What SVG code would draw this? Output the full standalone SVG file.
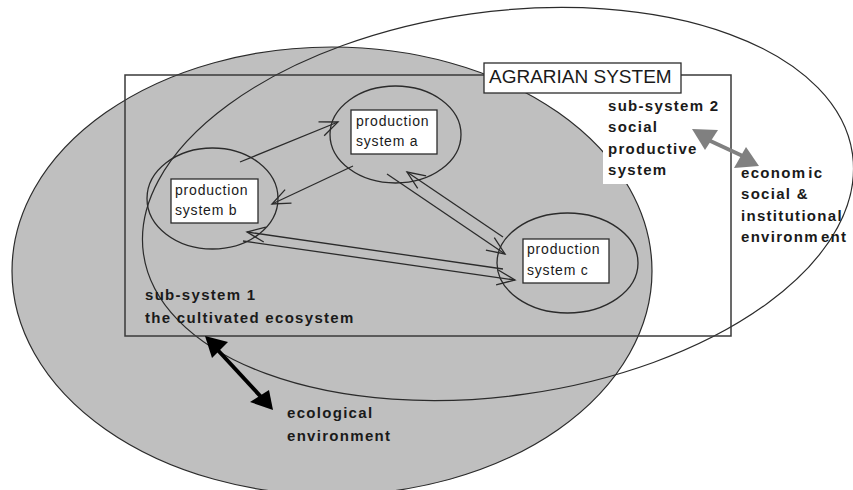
<svg xmlns="http://www.w3.org/2000/svg" width="853" height="490" viewBox="0 0 853 490">
  <style>
    .outline { fill: none; stroke: #2b2b2b; stroke-width: 1.2; }
    .node-ring { fill: none; stroke: #2b2b2b; stroke-width: 1.3; }
    .label-box { fill: #ffffff; stroke: #2b2b2b; stroke-width: 1.3; }
    .node-text { font-family: "Liberation Sans", Arial, sans-serif; font-size: 14px; letter-spacing: 0.8px; fill: #1a1a1a; }
    .bold-text { font-family: "Liberation Sans", Arial, sans-serif; font-size: 15px; font-weight: bold; letter-spacing: 1.3px; fill: #1a1a1a; }
    .title-text { font-family: "Liberation Sans", Arial, sans-serif; font-size: 19px; fill: #1a1a1a; }
    .flow { fill: none; stroke: #2b2b2b; stroke-width: 1.3; marker-end: url(#open-head); }
  </style>
  <defs>
    <marker id="open-head" markerUnits="userSpaceOnUse" markerWidth="24" markerHeight="20" refX="20" refY="9" orient="auto">
      <path d="M2,1.5 L20,9 L2,16.5" fill="none" stroke="#2b2b2b" stroke-width="1.3"/>
    </marker>
  </defs>

  <rect width="853" height="490" fill="#ffffff"/>

  <!-- ecological environment: shaded ellipse -->
  <g id="ecological-environment">
    <ellipse cx="332" cy="271" rx="320" ry="224" fill="#bfbfbf" stroke="#2b2b2b" stroke-width="1.2"/>
  </g>

  <!-- economic, social and institutional environment: outline ellipse -->
  <g id="socio-economic-environment">
    <ellipse cx="498" cy="204" rx="358" ry="192" transform="rotate(-8 498 204)" class="outline"/>
  </g>

  <!-- agrarian system frame -->
  <g id="agrarian-system">
    <rect x="125" y="75" width="606" height="261" fill="none" stroke="#3a3a3a" stroke-width="1.5"/>
    <rect x="484" y="63" width="197" height="30" class="label-box"/>
    <text x="489" y="83" class="title-text">AGRARIAN SYSTEM</text>
  </g>

  <!-- sub-system 2 caption on a white ground -->
  <g id="sub-system-2">
    <rect x="603" y="95" width="120" height="89" fill="#ffffff"/>
    <text class="bold-text">
      <tspan x="608" y="111">sub-system 2</tspan>
      <tspan x="608" y="132">social</tspan>
      <tspan x="608" y="154">productive</tspan>
      <tspan x="608" y="175">system</tspan>
    </text>
  </g>

  <g id="sub-system-1">
    <text class="bold-text">
      <tspan x="145" y="300">sub-system 1</tspan>
      <tspan x="145" y="323">the cultivated ecosystem</tspan>
    </text>
  </g>

  <g id="economic-label">
    <text class="bold-text">
      <tspan x="741" y="178">econom</tspan><tspan dx="2">ic</tspan>
      <tspan x="741" y="199">social &amp;</tspan>
      <tspan x="741" y="221">institutional</tspan>
      <tspan x="741" y="242">environm</tspan><tspan dx="2">ent</tspan>
    </text>
  </g>

  <g id="ecological-label">
    <text class="bold-text">
      <tspan x="287" y="418">ecological</tspan>
      <tspan x="287" y="441">environment</tspan>
    </text>
  </g>

  <!-- production systems -->
  <g id="production-system-a">
    <ellipse cx="395.5" cy="134.5" rx="65.5" ry="48.5" class="node-ring"/>
    <rect x="351" y="110" width="86" height="44" class="label-box"/>
    <text class="node-text">
      <tspan x="356" y="126">production</tspan>
      <tspan x="356" y="146">system a</tspan>
    </text>
  </g>

  <g id="production-system-b">
    <ellipse cx="212.5" cy="198.5" rx="65.5" ry="50.5" class="node-ring"/>
    <rect x="171" y="179" width="87" height="44" class="label-box"/>
    <text class="node-text">
      <tspan x="175" y="195">production</tspan>
      <tspan x="175" y="215">system b</tspan>
    </text>
  </g>

  <g id="production-system-c">
    <ellipse cx="567.5" cy="263" rx="70.5" ry="50" class="node-ring"/>
    <rect x="523" y="239" width="86" height="44" class="label-box"/>
    <text class="node-text">
      <tspan x="527" y="254">production</tspan>
      <tspan x="527" y="275">system c</tspan>
    </text>
  </g>

  <!-- connectors -->
  <g id="connectors">
    <path d="M240,162 L338,122" class="flow"/>
    <path d="M353,166 L272,204" class="flow"/>
    <path d="M387,174 L505,254" class="flow"/>
    <path d="M503,237 L407,172" class="flow"/>
    <path d="M503,269 L247,232" class="flow"/>
    <path d="M243,241 L515,280" class="flow"/>

    <!-- exchange with the socio-economic environment -->
    <g fill="#808080" stroke="none">
      <line x1="704" y1="138" x2="747" y2="158" stroke="#808080" stroke-width="4"/>
      <polygon points="692,129 718,130 705,150"/>
      <polygon points="759,166 734,168 746,147"/>
    </g>

    <!-- exchange with the ecological environment -->
    <g fill="#000000" stroke="none">
      <line x1="214" y1="346" x2="263" y2="399" stroke="#000000" stroke-width="4"/>
      <polygon points="205,336 228,342 212,358"/>
      <polygon points="273,410 250,402 269,390"/>
    </g>
  </g>
</svg>
